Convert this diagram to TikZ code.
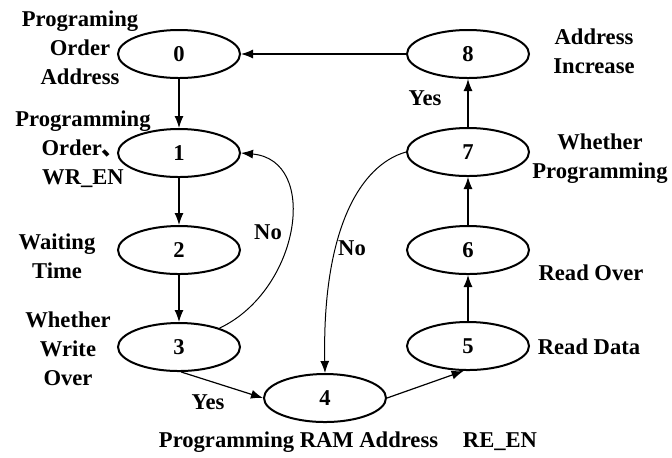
\documentclass[tikz,border=0pt]{standalone}
\usepackage{fontspec}
\setmainfont{Liberation Serif}
\newfontfamily\cjk{Noto Sans CJK SC}
\usetikzlibrary{shapes.geometric,arrows.meta}
\tikzset{
    state/.style={draw, ellipse, line width=1pt, minimum width=61pt, minimum height=24pt, inner sep=0pt, font=\fontsize{11.3}{14.5}\selectfont\bfseries},
    lbl/.style={align=center, inner sep=0pt, font=\fontsize{11.3}{14.5}\selectfont\bfseries},
    arr/.style={-{Latex[length=6pt,width=4.5pt]}, line width=0.6pt},
    curvearr/.style={-{Latex[length=6pt,width=4.5pt]}, line width=0.5pt}
}

\begin{document}
\begin{tikzpicture}[x=0.5pt, y=-0.5pt]
    \useasboundingbox (0,0) rectangle (672,457);
    % States
    \node[state] (n0) at (179,54) {0};
    \node[state] (n1) at (179,153) {1};
    \node[state] (n2) at (179,250) {2};
    \node[state] (n3) at (179,347) {3};
    \node[state] (n4) at (325,398) {4};
    \node[state] (n5) at (468,346) {5};
    \node[state] (n6) at (468,250) {6};
    \node[state] (n7) at (468,152) {7};
    \node[state] (n8) at (468,54) {8};
    % Transitions
    \draw[arr] (n0) -- (n1);
    \draw[arr] (n1) -- (n2);
    \draw[arr] (n2) -- (n3);
    \draw[arr] (n3.-85) -- (n4.west);
    \draw[arr] (n4.east) -- (n5.-100);
    \draw[arr] (n5) -- (n6);
    \draw[arr] (n6) -- (n7);
    \draw[arr] (n7) -- (n8);
    \draw[arr] (n8.west) -- (n0.east);
    \draw[curvearr] (n3.25) .. controls (300,290) and (320,160) .. (n1.east);
    \draw[curvearr] (n7.west) .. controls (360,165) and (322,230) .. (n4.north);
    % Labels
    \node[lbl] (t0) at (80,48) {Programing\\Order\\Address};
    \node[lbl] (t1) at (83,149) {Programming\\Order{\cjk 、}\\WR\_EN};
    \node[lbl] (t2) at (57,256) {Waiting\\Time};
    \node[lbl] (t3) at (68,349) {Whether\\Write\\Over};
    \node[lbl] (t4) at (348,442) {Programming RAM Address\hspace{1.1em}RE\_EN};
    \node[lbl] (t5) at (589,347) {Read Data};
    \node[lbl] (t6) at (591,273) {Read Over};
    \node[lbl] (t7) at (600,159) {Whether\\Programming};
    \node[lbl] (t8) at (594,51) {Address\\Increase};
    \node[lbl] (yes1) at (208,402) {Yes};
    \node[lbl] (yes2) at (425,98) {Yes};
    \node[lbl] (no1) at (268,232) {No};
    \node[lbl] (no2) at (352,248) {No};
\end{tikzpicture}
\end{document}
